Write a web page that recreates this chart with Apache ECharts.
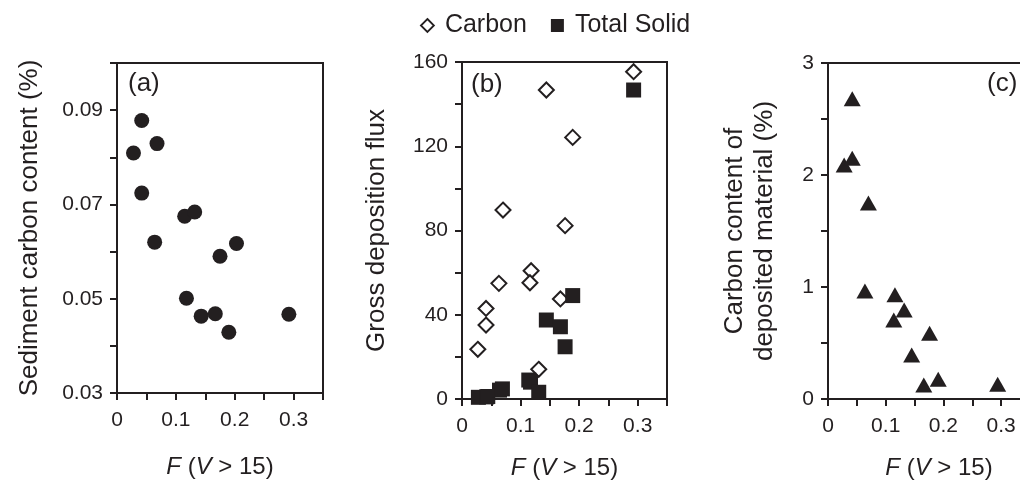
<!DOCTYPE html>
<html>
<head>
<meta charset="utf-8">
<script src="https://cdn.jsdelivr.net/npm/echarts@6/dist/echarts.min.js"></script>
<style>
  html, body { margin: 0; padding: 0; background: #fff; }
  #chart { width: 1020px; height: 483px; }
</style>
</head>
<body>
<div id="chart"></div>
<script>
// ---- Data ----
// Panel (a): sediment carbon content vs F(V>15)
const aF   = [0.028, 0.042, 0.068, 0.042, 0.064, 0.115, 0.132, 0.118, 0.143, 0.167, 0.175, 0.203, 0.190, 0.292];
const aSed = [0.0809, 0.0878, 0.0829, 0.0724, 0.0620, 0.0675, 0.0684, 0.0501, 0.0463, 0.0468, 0.0590, 0.0617, 0.0429, 0.0467];

// Panel (b): gross deposition flux — Carbon (open diamonds), Total Solid (filled squares)
const bCarbonF = [0.027, 0.041, 0.041, 0.063, 0.070, 0.118, 0.116, 0.131, 0.144, 0.168, 0.176, 0.189, 0.293];
const bCarbon  = [23.6, 43.0, 35.1, 54.9, 89.7, 60.9, 55.2, 14.1, 146.7, 47.5, 82.3, 124.2, 155.4];
const bSolidF  = [0.028, 0.042, 0.044, 0.064, 0.069, 0.114, 0.117, 0.131, 0.144, 0.168, 0.176, 0.189, 0.293];
const bSolid   = [0.8, 1.0, 1.2, 4.2, 4.8, 9.0, 8.0, 3.2, 37.5, 34.3, 24.8, 49.1, 146.7];

// Panel (c): carbon content of deposited material (%)
const cF   = [0.028, 0.042, 0.042, 0.070, 0.064, 0.116, 0.114, 0.132, 0.145, 0.176, 0.166, 0.191, 0.294];
const cDep = [2.09, 2.15, 2.68, 1.75, 0.965, 0.93, 0.706, 0.795, 0.393, 0.587, 0.125, 0.176, 0.131];

// Tick labels
const xTickLabels  = ['0', '0.1', '0.2', '0.3'];
const aYTickLabels = ['0.03', '0.05', '0.07', '0.09'];
const bYTickLabels = ['0', '40', '80', '120', '160'];
const cYTickLabels = ['0', '1', '2', '3'];

// ---- Helpers ----
const INK = '#231f20';
const FONT = 'Liberation Sans, Arial, Helvetica, sans-serif';
function pick(labels) {
  return function (v) {
    const s = labels.find(l => Math.abs(parseFloat(l) - v) < 1e-9);
    return s === undefined ? '' : s;
  };
}
function zip(xs, ys) { return xs.map((x, i) => [x, ys[i]]); }

const axisCommon = {
  axisLine: { show: true, onZero: false, lineStyle: { color: INK, width: 2 } },
  axisTick: { show: true, inside: false, length: 7, lineStyle: { color: INK, width: 2 } },
  splitLine: { show: false },
  axisLabel: { color: INK, fontSize: 21, fontFamily: FONT, margin: 14, showMinLabel: true, showMaxLabel: true }
};
function xAxis(idx, gap) {
  return Object.assign({}, axisCommon, {
    type: 'value', gridIndex: idx, min: 0, max: 0.35, interval: 0.05,
    axisLabel: Object.assign({}, axisCommon.axisLabel, { margin: 17, formatter: pick(xTickLabels) }),
    name: '{i|F} ({i|V} > 15)', nameLocation: 'middle', nameGap: gap,
    nameTextStyle: {
      color: INK, fontSize: 24, fontFamily: FONT,
      padding: idx === 2 ? [0, 0, 0, 20] : 0,
      rich: { i: { fontStyle: 'italic', fontSize: 24, fontFamily: FONT, color: INK } }
    }
  });
}
function yAxis(idx, min, max, interval, labels, name, gap, lh) {
  return Object.assign({}, axisCommon, {
    type: 'value', gridIndex: idx, min: min, max: max, interval: interval,
    axisLabel: Object.assign({}, axisCommon.axisLabel, { formatter: pick(labels) }),
    name: name, nameLocation: 'middle', nameGap: gap,
    nameTextStyle: { color: INK, fontSize: 26, fontFamily: FONT, lineHeight: lh || 30 }
  });
}

const gridStyle = {
  show: true, borderColor: INK, borderWidth: 2, backgroundColor: 'transparent',
  containLabel: false, outerBoundsMode: 'none'
};

const option = {
  backgroundColor: '#fff',
  animation: false,
  textStyle: { fontFamily: FONT },
  title: [
    { text: '(a)', left: 128, top: 71, padding: 0, textStyle: { fontSize: 26, fontWeight: 'normal', color: INK, fontFamily: FONT } },
    { text: '(b)', left: 471, top: 72, padding: 0, textStyle: { fontSize: 26, fontWeight: 'normal', color: INK, fontFamily: FONT } },
    { text: '(c)', left: 987, top: 71, padding: 0, textStyle: { fontSize: 26, fontWeight: 'normal', color: INK, fontFamily: FONT } }
  ],
  legend: {
    left: 415, top: 8, itemWidth: 13, itemHeight: 13, itemGap: 24,
    textStyle: { color: INK, fontSize: 25, fontFamily: FONT, padding: [0, 0, 0, 6] },
    data: [
      { name: 'Carbon', icon: 'diamond', itemStyle: { color: '#fff', borderColor: INK, borderWidth: 1.8 } },
      { name: 'Total Solid', icon: 'rect', itemStyle: { color: INK, borderWidth: 0 } }
    ]
  },
  grid: [
    Object.assign({ left: 117, top: 63, width: 206, height: 330 }, gridStyle),
    Object.assign({ left: 462, top: 62, width: 205, height: 337 }, gridStyle),
    Object.assign({ left: 828, top: 63, width: 202, height: 336 }, gridStyle)
  ],
  xAxis: [xAxis(0, 62), xAxis(1, 57), xAxis(2, 57)],
  yAxis: [
    yAxis(0, 0.03, 0.10, 0.01, aYTickLabels, 'Sediment carbon content (%)', 72),
    yAxis(1, 0, 160, 20, bYTickLabels, 'Gross deposition flux', 70),
    yAxis(2, 0, 3, 0.5, cYTickLabels, 'Carbon content of\ndeposited material (%)', 48, 30)
  ],
  series: [
    {
      name: 'Sediment', type: 'scatter', xAxisIndex: 0, yAxisIndex: 0,
      symbol: 'circle', symbolSize: 15, itemStyle: { color: INK, opacity: 1 },
      data: zip(aF, aSed)
    },
    {
      name: 'Carbon', type: 'scatter', xAxisIndex: 1, yAxisIndex: 1,
      symbol: 'diamond', symbolSize: 15,
      itemStyle: { color: '#fff', borderColor: INK, borderWidth: 2, opacity: 1 },
      data: zip(bCarbonF, bCarbon)
    },
    {
      name: 'Total Solid', type: 'scatter', xAxisIndex: 1, yAxisIndex: 1,
      symbol: 'rect', symbolSize: 15, itemStyle: { color: INK, opacity: 1 },
      data: zip(bSolidF, bSolid)
    },
    {
      name: 'Deposited', type: 'scatter', xAxisIndex: 2, yAxisIndex: 2,
      symbol: 'triangle', symbolSize: [17, 15], itemStyle: { color: INK, opacity: 1 },
      data: zip(cF, cDep)
    }
  ]
};

const chart = echarts.init(document.getElementById('chart'), null, { renderer: 'canvas' });
chart.setOption(option);
</script>
</body>
</html>
